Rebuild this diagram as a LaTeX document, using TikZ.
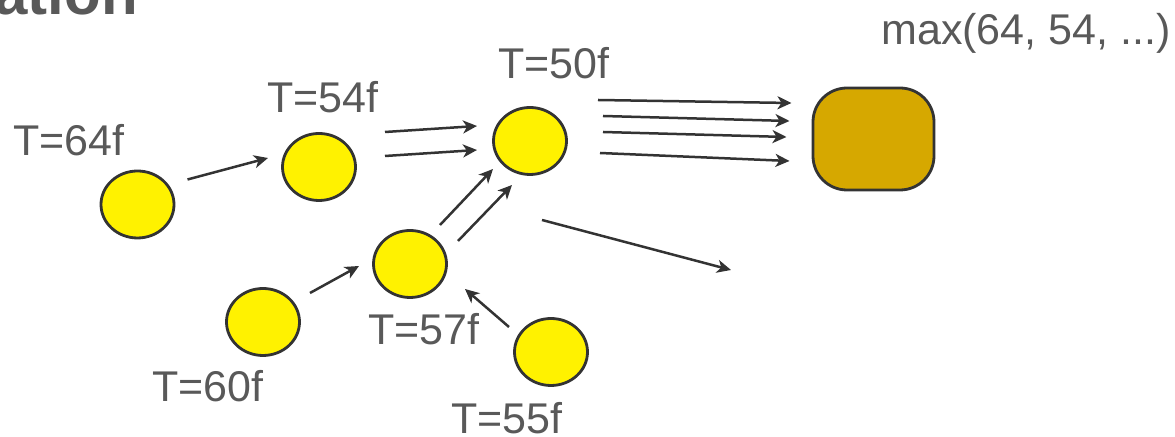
\documentclass[tikz,border=0pt]{standalone}
\usepackage{fontspec}
\setmainfont{Liberation Sans}
\usetikzlibrary{calc,shapes.geometric,arrows.meta}
\definecolor{txtgray}{RGB}{89,89,89}
\definecolor{edgegray}{RGB}{51,51,51}
\definecolor{gold}{RGB}{214,168,0}

\begin{document}
\begin{tikzpicture}[x=0.5pt, y=-0.5pt, ->, >={Stealth[length=7pt,width=6.5pt,inset=2pt]},
    job/.style={ellipse, draw=edgegray, fill=yellow, line width=1.4pt,
      minimum width=36.5pt, minimum height=33.5pt, inner sep=0pt},
    tag/.style={anchor=base, text=txtgray, inner sep=0pt,
      font=\fontsize{21.5}{24}\selectfont},
    link/.style={draw=edgegray, line width=1.25pt}]
      \useasboundingbox (0,0) rectangle (1175,437);
      \node [anchor=base west, text=txtgray, inner sep=0pt,
        font=\bfseries\fontsize{30}{32}\selectfont] (title) at (-6,15) {ation};
      % jobs and their times
      \node [job] (a) at (137.5,204.5) {};
      \node [job] (b) at (319,167) {};
      \node [job] (c) at (530,141) {};
      \node [job] (d) at (410,264) {};
      \node [job] (e) at (263,322) {};
      \node [job] (f) at (551,352) {};
      \node [tag] (ta) at (69,156) {T=64f};
      \node [tag] (tb) at (323,113) {T=54f};
      \node [tag] (tc) at (554,79) {T=50f};
      \node [tag] (td) at (424,345) {T=57f};
      \node [tag] (te) at (208,402) {T=60f};
      \node [tag] (tf) at (507,434) {T=55f};
      % collecting node
      \node [draw=edgegray, fill=gold, line width=1.4pt, rounded corners=17pt,
        minimum width=60.5pt, minimum height=51pt] (r) at (873.5,139) {};
      \node [tag] (tmax) at (1026,45) {max(64, 54, ...)};
      \coordinate (out) at (731,270);
      \draw [link] ($(a)+(50,-25)$) -- ($(b)+(-51,-9)$);
      \draw [link] ($(b)+(66,-35)$) -- ($(c)+(-53,-15)$);
      \draw [link] ($(b)+(66,-11)$) -- ($(c)+(-53,9)$);
      \draw [link] ($(e)+(47,-29)$) -- ($(d)+(-51,2)$);
      \draw [link] ($(d)+(30,-39)$) -- ($(c)+(-37,28)$);
      \draw [link] ($(d)+(48,-23)$) -- ($(c)+(-18,44)$);
      \draw [link] ($(f)+(-42,-25)$) -- ($(d)+(55,25)$);
      \draw [link] ($(c)+(12,79)$) -- (out);
      \draw [link] ($(c)+(68,-41)$) -- ($(r)+(-82,-36)$);
      \draw [link] ($(c)+(73,-25)$) -- ($(r)+(-84,-18)$);
      \draw [link] ($(c)+(73,-9)$) -- ($(r)+(-87,-2)$);
      \draw [link] ($(c)+(70,12)$) -- ($(r)+(-84,22)$);
\end{tikzpicture}
\end{document}
